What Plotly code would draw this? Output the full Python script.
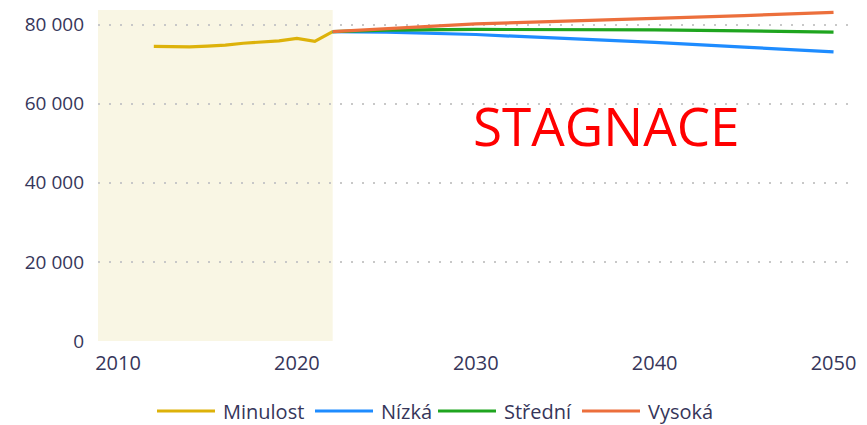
import plotly.graph_objects as go

# Historical series
past_years = [2012, 2013, 2014, 2015, 2016, 2017, 2018, 2019, 2020, 2021, 2022]
past_values = [74500, 74400, 74400, 74550, 74800, 75300, 75500, 75900, 76500, 75750, 78250]

# Projection variants
proj_years = [2022, 2025, 2030, 2035, 2040, 2045, 2050]
low_values = [78250, 78100, 77500, 76600, 75500, 74300, 73100]
mid_values = [78250, 78600, 78800, 78800, 78650, 78400, 78100]
high_values = [78250, 79000, 80200, 80900, 81500, 82300, 83100]

series_names = ["Minulost", "Nízká", "Střední", "Vysoká"]
series_colors = ["#DDB20A", "#1E8CFF", "#1FA51F", "#EC6F3C"]

y_ticks = [0, 20000, 40000, 60000, 80000]
y_tick_text = ["0", "20 000", "40 000", "60 000", "80 000"]
x_ticks = [2010, 2020, 2030, 2040, 2050]

x_range = [2008.88, 2051.2]
y_range = [0, 83700]
shade_end = 2022

font_family = "Open Sans, Noto Sans, sans-serif"
text_color = "#36365A"

fig = go.Figure()
series_data = [
    (past_years, past_values),
    (proj_years, low_values),
    (proj_years, mid_values),
    (proj_years, high_values),
]
for name, color, (xs, ys) in zip(series_names, series_colors, series_data):
    fig.add_trace(go.Scatter(
        x=xs, y=ys, mode="lines", name=name,
        line=dict(color=color, width=3.2),
        hoverinfo="skip", showlegend=False,
    ))

# shaded band for the observed period
fig.add_shape(
    type="rect", xref="x", yref="paper",
    x0=x_range[0], x1=shade_end, y0=0, y1=1,
    fillcolor="#F9F6E4", line=dict(width=0), layer="below",
)

# legend drawn as line samples plus labels
legend_items = [
    (157, 215, 221),
    (315, 373, 379),
    (438, 496, 502),
    (582, 640, 646),
]
W, H = 867, 425
ml, mr, mt, mb = 98, 12, 10, 84
pw, ph = W - ml - mr, H - mt - mb
legend_y_px = 411


def px_to_paper_x(px):
    return (px - ml) / pw


def px_to_paper_y(py):
    return (H - mb - py) / ph


for (x0, x1, tx), name, color in zip(legend_items, series_names, series_colors):
    fig.add_shape(
        type="line", xref="paper", yref="paper",
        x0=px_to_paper_x(x0), x1=px_to_paper_x(x1),
        y0=px_to_paper_y(legend_y_px), y1=px_to_paper_y(legend_y_px),
        line=dict(color=color, width=3),
    )
    fig.add_annotation(
        xref="paper", yref="paper",
        x=px_to_paper_x(tx), y=px_to_paper_y(legend_y_px),
        text=name, showarrow=False, xanchor="left", yanchor="middle",
        font=dict(family=font_family, size=20, color=text_color),
    )

fig.add_annotation(
    xref="paper", yref="paper",
    x=px_to_paper_x(606), y=px_to_paper_y(126),
    text="STAGNACE", showarrow=False, xanchor="center", yanchor="middle",
    font=dict(family=font_family, size=53, color="#FF0000"),
)

fig.update_layout(
    width=W, height=H,
    margin=dict(l=ml, r=mr, t=mt, b=mb),
    paper_bgcolor="white", plot_bgcolor="rgba(0,0,0,0)",
    showlegend=False,
    font=dict(family=font_family, size=18, color=text_color),
)
fig.update_xaxes(
    range=x_range, tickvals=x_ticks, showgrid=False, zeroline=False,
    showline=False, ticks="", ticklen=0, ticklabelstandoff=8,
    tickfont=dict(size=20, color=text_color),
)
fig.update_yaxes(
    range=y_range, tickvals=y_ticks, ticktext=y_tick_text,
    showgrid=True, gridcolor="#C8C8C8", gridwidth=2, griddash="2px,9px",
    zeroline=False, showline=False, ticks="", ticklabelstandoff=13,
    tickfont=dict(size=19, color=text_color),
)

fig.write_html("out.html")
